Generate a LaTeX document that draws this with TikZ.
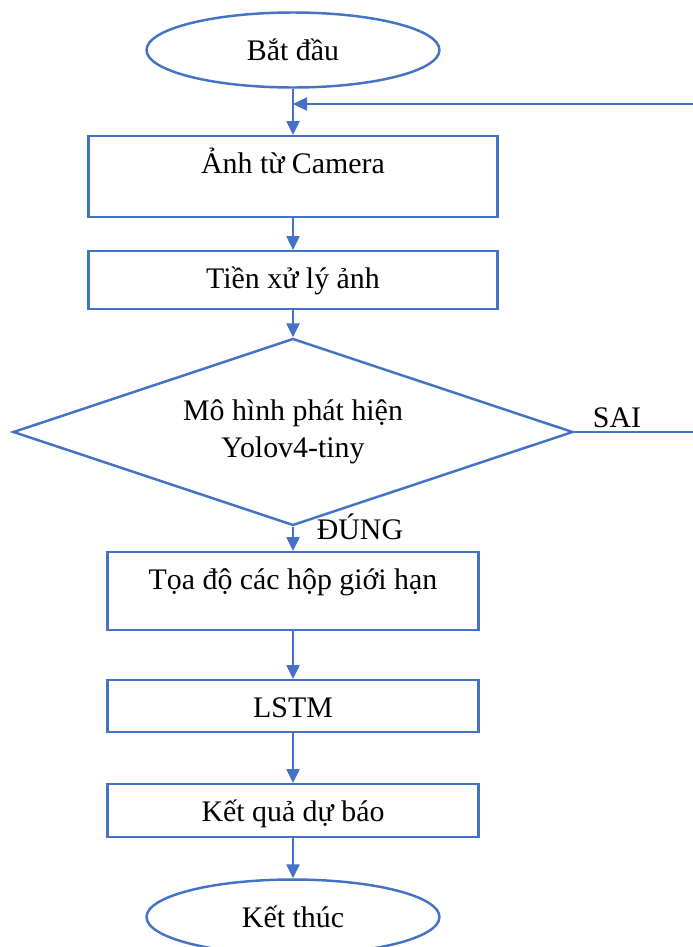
\documentclass[tikz,border=0pt]{standalone}
\usepackage{fontspec}
\setmainfont{Liberation Serif}
\usepackage{tikz}
\usetikzlibrary{arrows.meta, positioning, shapes.geometric}
\definecolor{wordblue}{HTML}{4472C4}

\begin{document}
\begin{tikzpicture}[x=0.02cm, y=-0.02cm,
        every node/.style={font=\fontsize{17}{21}\selectfont},
        box/.style={rectangle, draw=wordblue, line width=1.4pt, anchor=north, inner ysep=0pt, text height=0.74cm},
        term/.style={ellipse, draw=wordblue, line width=1.4pt, minimum width=5.86cm, minimum height=1.5cm},
        decide/.style={diamond, aspect=3, draw=wordblue, line width=1.4pt, minimum width=11.2cm, minimum height=3.74cm, inner sep=0pt, align=center},
        arr/.style={-{Triangle[length=0.28cm, width=0.26cm]}, draw=wordblue, line width=1.4pt},
    ]
        \useasboundingbox (0,0) rectangle (693,947);

        % Start
        \node[term] (start) at (293, 50) {Bắt đầu};

        % Camera input
        \node[box, minimum width=8.18cm, text depth=0.88cm] (cam) at (293, 135) {Ảnh từ Camera};

        % Preprocessing
        \node[box, minimum width=8.18cm, text depth=0.42cm] (prep) at (293, 250) {Tiền xử lý ảnh};

        % Detector
        \node[decide] (detect) at (293, 432) {Mô hình phát hiện\\Yolov4-tiny};
        \node (sai) at (617, 418) {SAI};
        \node (dung) at (360, 527) {ĐÚNG};

        % Bounding boxes
        \node[box, minimum width=7.42cm, text depth=0.82cm] (bbox) at (293, 551) {Tọa độ các hộp giới hạn};

        % LSTM
        \node[box, minimum width=7.42cm, text depth=0.30cm] (lstm) at (293, 679) {LSTM};

        % Prediction
        \node[box, minimum width=7.42cm, text depth=0.32cm] (result) at (293, 783) {Kết quả dự báo};

        % End
        \node[term] (stop) at (293, 917) {Kết thúc};

        % Loop back points
        \coordinate (join) at (293, 104);
        \coordinate (edge) at (702, 432);

        % Arrows
        \draw[arr] (start) -- (cam);
        \draw[arr] (cam) -- (prep);
        \draw[arr] (prep) -- (detect);
        \draw[arr] (detect) -- (bbox);
        \draw[arr] (bbox) -- (lstm);
        \draw[arr] (lstm) -- (result);
        \draw[arr] (result) -- (stop);
        \draw[arr] (detect.east) -- (edge) |- (join);
    \end{tikzpicture}
\end{document}
